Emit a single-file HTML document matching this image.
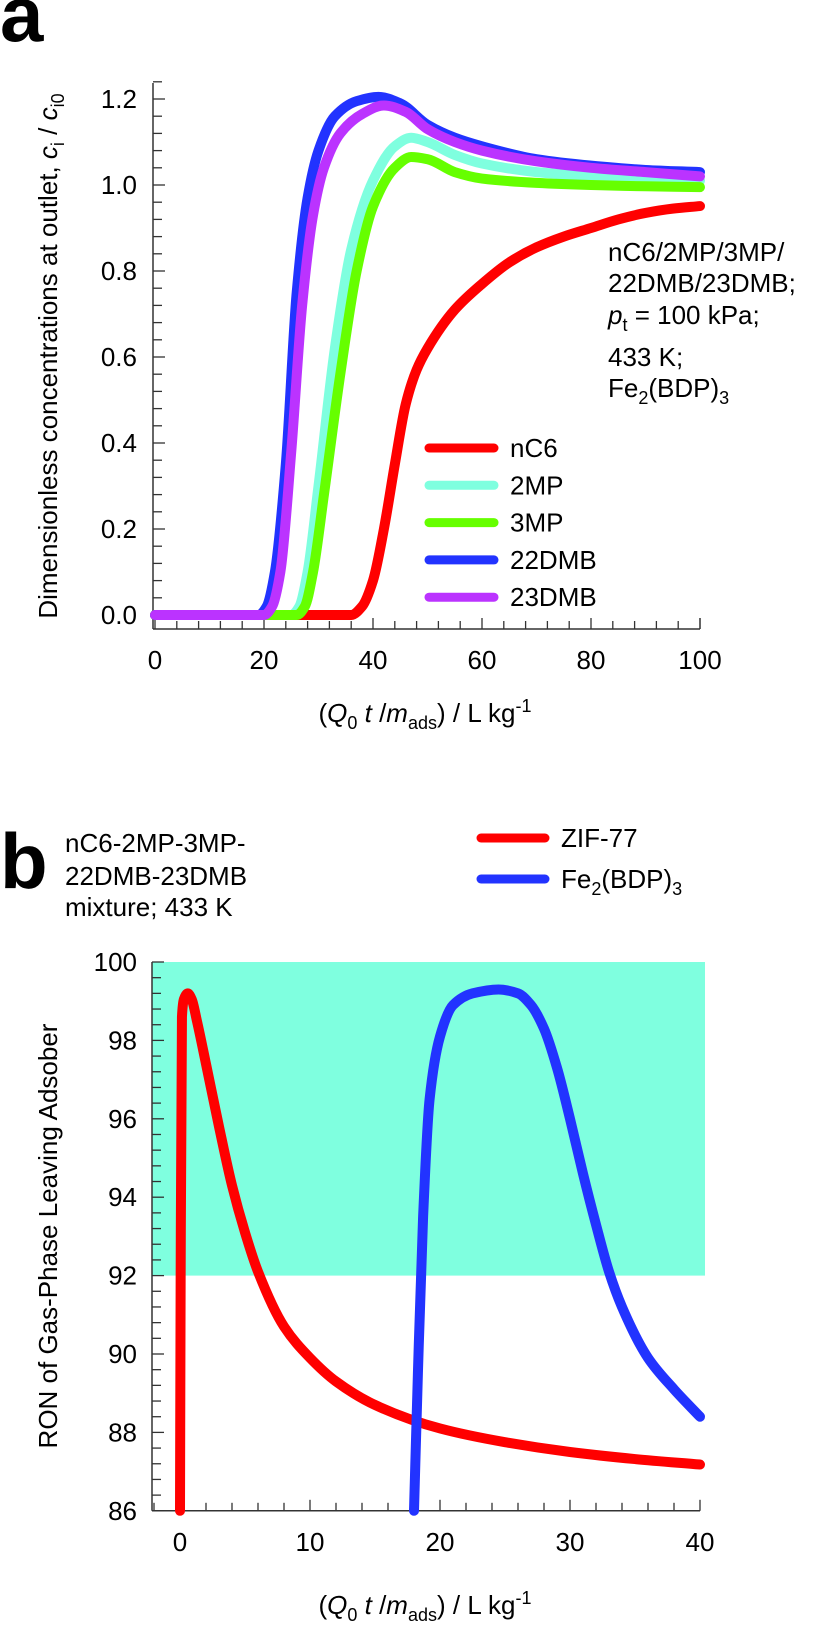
<!DOCTYPE html>
<html><head><meta charset="utf-8"><style>
body{margin:0;background:#fff}
svg{display:block;font-family:"Liberation Sans",Arial,sans-serif}
</style></head><body>
<svg id="fig" width="814" height="1625" viewBox="0 0 814 1625" xmlns="http://www.w3.org/2000/svg">
<text x="0" y="41" font-size="78" font-weight="bold">a</text>
<text x="0" y="888" font-size="78" font-weight="bold">b</text>
<g id="chartA"></g>
<g id="chartB"></g>
</svg>
<script>
// ---------- Panel a data ----------
const aXTicks = [0, 20, 40, 60, 80, 100];
const aYTicks = [0.0, 0.2, 0.4, 0.6, 0.8, 1.0, 1.2];
const aNames = ["nC6", "2MP", "3MP", "22DMB", "23DMB"];
const aColors = ["#ff0000", "#7fffdf", "#66ff00", "#2233ff", "#bb33ff"];
const x22DMB = [0, 19, 20.5, 22, 24, 26, 28, 30, 33, 37, 41, 45, 50, 55, 60, 70, 80, 90, 100];
const y22DMB = [0, 0, 0.02, 0.1, 0.35, 0.75, 0.97, 1.08, 1.16, 1.195, 1.205, 1.19, 1.14, 1.11, 1.09, 1.06, 1.045, 1.035, 1.03];
const x23DMB = [0, 20, 21.5, 23, 25, 27, 29, 31, 34, 38, 42, 46, 50, 55, 60, 70, 80, 90, 100];
const y23DMB = [0, 0, 0.02, 0.1, 0.38, 0.72, 0.93, 1.04, 1.12, 1.165, 1.185, 1.17, 1.13, 1.10, 1.08, 1.055, 1.04, 1.03, 1.02];
const x2MP = [0, 25, 26.5, 28, 30, 33, 36, 40, 44, 47, 50, 55, 60, 70, 80, 90, 100];
const y2MP = [0, 0, 0.02, 0.1, 0.3, 0.62, 0.85, 1.01, 1.09, 1.11, 1.10, 1.07, 1.05, 1.03, 1.02, 1.015, 1.01];
const x3MP = [0, 26, 27.5, 29, 31, 34, 37, 40, 44, 47, 50, 55, 60, 70, 80, 90, 100];
const y3MP = [0, 0, 0.02, 0.1, 0.28, 0.56, 0.8, 0.95, 1.04, 1.065, 1.06, 1.03, 1.015, 1.005, 1.0, 0.997, 0.995];
const xNC6 = [0, 36, 38, 40, 42, 44, 46, 48, 50, 55, 60, 65, 70, 75, 80, 85, 90, 95, 100];
const yNC6 = [0, 0, 0.02, 0.08, 0.2, 0.35, 0.49, 0.57, 0.62, 0.71, 0.77, 0.82, 0.855, 0.88, 0.9, 0.92, 0.935, 0.945, 0.951];

// ---------- Panel b data ----------
const bXTicks = [0, 10, 20, 30, 40];
const bYTicks = [86, 88, 90, 92, 94, 96, 98, 100];
const bNames = ["ZIF-77", "Fe2(BDP)3"];
const bColors = ["#ff0000", "#2233ff"];
const xZIF = [0, 0.05, 0.15, 0.3, 0.6, 0.9, 1.3, 2, 3, 4, 5, 6, 8, 10, 12, 15, 20, 25, 30, 35, 40];
const yZIF = [86, 92, 98.6, 99.05, 99.2, 99.05, 98.5, 97.4, 95.8, 94.3, 93.1, 92.1, 90.7, 89.9, 89.3, 88.7, 88.1, 87.75, 87.5, 87.32, 87.18];
const xFe = [18, 18.3, 18.7, 19.2, 20, 21, 22.5, 24.5, 26, 27, 28, 29, 30, 31, 32, 33, 34, 36, 38, 40];
const yFe = [86, 89.5, 93.5, 96.5, 98.1, 98.9, 99.2, 99.3, 99.2, 98.9, 98.3, 97.3, 96.0, 94.6, 93.3, 92.1, 91.2, 89.9, 89.1, 88.4];
const bandLow = 92, bandHigh = 100;

const NS = "http://www.w3.org/2000/svg";
function mk(tag, attrs, parent, txt) {
  const e = document.createElementNS(NS, tag);
  for (const k in attrs) e.setAttribute(k, attrs[k]);
  if (txt !== undefined) e.textContent = txt;
  parent.appendChild(e);
  return e;
}
// monotone cubic (Fritsch-Carlson) in screen coords, x increasing
function smoothPath(pts) {
  const n = pts.length;
  const dx = [], s = [];
  for (let i = 0; i < n - 1; i++) {
    dx.push(pts[i + 1][0] - pts[i][0]);
    s.push(dx[i] === 0 ? 0 : (pts[i + 1][1] - pts[i][1]) / dx[i]);
  }
  const m = new Array(n);
  m[0] = s[0]; m[n - 1] = s[n - 2];
  for (let i = 1; i < n - 1; i++) {
    if (s[i - 1] * s[i] <= 0) m[i] = 0;
    else {
      const w1 = 2 * dx[i] + dx[i - 1], w2 = dx[i] + 2 * dx[i - 1];
      m[i] = (w1 + w2) / (w1 / s[i - 1] + w2 / s[i]);
    }
  }
  let d = "M" + pts[0][0].toFixed(2) + "," + pts[0][1].toFixed(2);
  for (let i = 0; i < n - 1; i++) {
    const h = dx[i] / 3;
    const c1x = pts[i][0] + h, c1y = pts[i][1] + m[i] * h;
    const c2x = pts[i + 1][0] - h, c2y = pts[i + 1][1] - m[i + 1] * h;
    d += " C" + c1x.toFixed(2) + "," + c1y.toFixed(2) + " " + c2x.toFixed(2) + "," + c2y.toFixed(2) + " " + pts[i + 1][0].toFixed(2) + "," + pts[i + 1][1].toFixed(2);
  }
  return d;
}

// ---------- Panel a ----------
(function () {
  const g = document.getElementById("chartA");
  const ax = v => 155 + v * 5.45;
  const ay = v => 615 - v * 430;
  const L = 153, B = 629, R = 700, T = 83;
  const axes = mk("g", {}, g);
  
  
  mk("line", {x1: L, y1: T, x2: L, y2: B, stroke: "#333", "stroke-width": 1.5}, axes);
  mk("line", {x1: L, y1: B, x2: R, y2: B, stroke: "#333", "stroke-width": 1.5}, axes);
  for (let i = 0; i <= 31; i++) {
    const v = i * 0.04, y = ay(v);
    const major = Math.abs((v / 0.2) - Math.round(v / 0.2)) < 1e-6;
    mk("line", {x1: L, y1: y, x2: L + (major ? 12 : 9), y2: y, stroke: "#333", "stroke-width": 1.3}, axes);
  }
  for (let v = 0; v <= 100; v += 4) {
    const major = v % 20 === 0;
    mk("line", {x1: ax(v), y1: B, x2: ax(v), y2: B - (major ? 11 : 8), stroke: "#333", "stroke-width": 1.3}, axes);
  }
  mk("line", {x1: R, y1: B, x2: R, y2: B - 11, stroke: "#333", "stroke-width": 1.3}, axes);
  aYTicks.forEach(v => {
    const t = mk("text", {x: 137, y: ay(v) + 9, "font-size": 26, "text-anchor": "end"}, axes, v.toFixed(1));
    
    
  });
  aXTicks.forEach(v => {
    const t = mk("text", {x: ax(v), y: 669, "font-size": 26, "text-anchor": "middle"}, axes, String(v));
    
    
  });
  const xs = [xNC6, x2MP, x3MP, x22DMB, x23DMB], ys = [yNC6, y2MP, y3MP, y22DMB, y23DMB];
  [0, 1, 2, 3, 4].forEach(i => {
    const pts = xs[i].map((x, k) => [ax(x), ay(ys[i][k])]);
    const p = mk("path", {d: smoothPath(pts), fill: "none", stroke: aColors[i], "stroke-width": 10, "stroke-linecap": "round", "stroke-linejoin": "round"}, g);
    
    
  });
  const leg = mk("g", {}, g);
  
  
  aNames.forEach((n, i) => {
    const y = 448 + i * 37.3;
    const e = mk("g", {}, leg);
    
    
    mk("line", {x1: 429, y1: y, x2: 494, y2: y, stroke: aColors[i], "stroke-width": 9, "stroke-linecap": "round"}, e);
    mk("text", {x: 510, y: y + 9, "font-size": 26}, e, n);
  });
})();

// ---------- Panel b ----------
(function () {
  const g = document.getElementById("chartB");
  const bx = v => 180 + v * 13;
  const by = v => 962 + (100 - v) * 39.2;
  const L = 152, B = by(86), R = 700, T = by(100);
  const band = mk("rect", {x: L, y: by(bandHigh), width: 705 - L, height: by(bandLow) - by(bandHigh), fill: "#7fffdf"}, g);
  
  
  const axes = mk("g", {}, g);
  
  
  mk("line", {x1: L, y1: T, x2: L, y2: B, stroke: "#333", "stroke-width": 1.5}, axes);
  mk("line", {x1: L, y1: B, x2: R, y2: B, stroke: "#333", "stroke-width": 1.5}, axes);
  for (let i = 0; i <= 35; i++) {
    const v = 86 + i * 0.4, y = by(v);
    const major = i % 5 === 0;
    mk("line", {x1: L, y1: y, x2: L + (major ? 12 : 9), y2: y, stroke: "#333", "stroke-width": 1.3}, axes);
  }
  for (let v = -2; v <= 40; v += 2) {
    const major = v % 10 === 0;
    mk("line", {x1: bx(v), y1: B, x2: bx(v), y2: B - (major ? 11 : 8), stroke: "#333", "stroke-width": 1.3}, axes);
  }
  bYTicks.forEach(v => {
    const t = mk("text", {x: 137, y: by(v) + 9, "font-size": 26, "text-anchor": "end"}, axes, String(v));
    
    
  });
  bXTicks.forEach(v => {
    const t = mk("text", {x: bx(v), y: 1551, "font-size": 26, "text-anchor": "middle"}, axes, String(v));
    
    
  });
  const xs = [xZIF, xFe], ys = [yZIF, yFe];
  [0, 1].forEach(i => {
    const pts = xs[i].map((x, k) => [bx(x), by(ys[i][k])]);
    const p = mk("path", {d: smoothPath(pts), fill: "none", stroke: bColors[i], "stroke-width": 10, "stroke-linecap": "round", "stroke-linejoin": "round"}, g);
    
    
  });
})();
</script>
<script>
(function(){
  const s = document.getElementById("fig");
  s.insertAdjacentHTML("beforeend", `
  <g font-size="26">
    <text x="608" y="261">nC6/2MP/3MP/</text>
    <text x="608" y="292">22DMB/23DMB;</text>
    <text x="608" y="324"><tspan font-style="italic">p</tspan><tspan font-size="18" dy="7">t</tspan><tspan dy="-7"> = 100 kPa;</tspan></text>
    <text x="608" y="366">433 K;</text>
    <text x="608" y="397">Fe<tspan font-size="18" dy="7">2</tspan><tspan dy="-7">(BDP)</tspan><tspan font-size="18" dy="7">3</tspan></text>
  </g>
  <text x="425" y="722" font-size="26" text-anchor="middle">(<tspan font-style="italic">Q</tspan><tspan font-size="18" dy="7">0</tspan><tspan dy="-7"> </tspan><tspan font-style="italic">t</tspan> /<tspan font-style="italic">m</tspan><tspan font-size="18" dy="7">ads</tspan><tspan dy="-7">) / L kg</tspan><tspan font-size="18" dy="-10">-1</tspan></text>
  <text transform="translate(57,356) rotate(-90)" font-size="26" text-anchor="middle">Dimensionless concentrations at outlet, <tspan font-style="italic">c</tspan><tspan font-size="18" dy="7">i</tspan><tspan dy="-7"> / </tspan><tspan font-style="italic">c</tspan><tspan font-size="18" dy="7">i0</tspan></text>
  <g font-size="26">
    <text x="65" y="852">nC6-2MP-3MP-</text>
    <text x="65" y="885">22DMB-23DMB</text>
    <text x="65" y="916">mixture; 433 K</text>
  </g>
  <g>
    <g><line x1="481" y1="838" x2="545" y2="838" stroke="#ff0000" stroke-width="9" stroke-linecap="round"/><text x="561" y="847" font-size="26">ZIF-77</text></g>
    <g><line x1="481" y1="879" x2="545" y2="879" stroke="#2233ff" stroke-width="9" stroke-linecap="round"/><text x="561" y="888" font-size="26">Fe<tspan font-size="18" dy="7">2</tspan><tspan dy="-7">(BDP)</tspan><tspan font-size="18" dy="7">3</tspan></text></g>
  </g>
  <text x="425" y="1614" font-size="26" text-anchor="middle">(<tspan font-style="italic">Q</tspan><tspan font-size="18" dy="7">0</tspan><tspan dy="-7"> </tspan><tspan font-style="italic">t</tspan> /<tspan font-style="italic">m</tspan><tspan font-size="18" dy="7">ads</tspan><tspan dy="-7">) / L kg</tspan><tspan font-size="18" dy="-10">-1</tspan></text>
  <text transform="translate(57,1236) rotate(-90)" font-size="26" text-anchor="middle">RON of Gas-Phase Leaving Adsober</text>
  `);
})();
</script>
</body></html>
